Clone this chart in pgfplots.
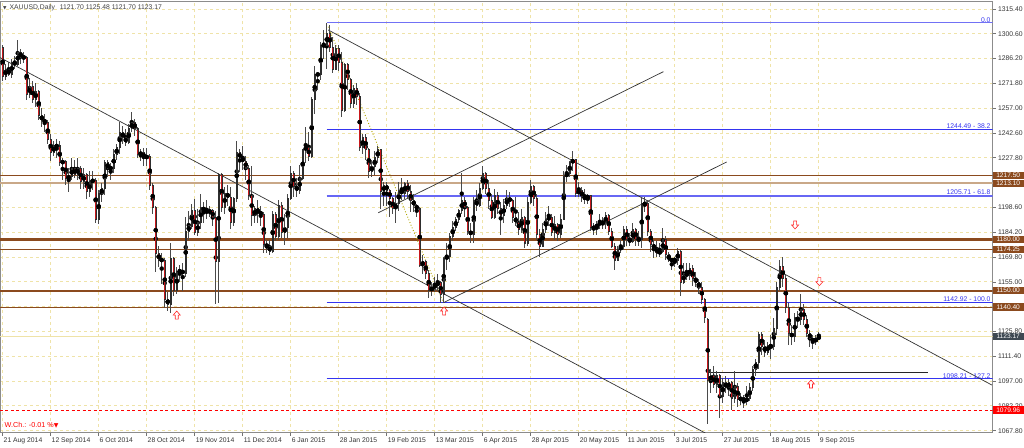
\documentclass[border=0pt]{standalone}
\usepackage{pgfplots}
\usepackage{pgfplotstable}
\pgfplotsset{compat=1.18}
\usepackage{fontspec}
\setmainfont{Liberation Sans}
\newfontfamily\sym{DejaVu Sans}
\definecolor{gridy}{HTML}{EFE3A8}
\definecolor{brownA}{HTML}{8B4A1E}
\definecolor{brownB}{HTML}{C9A888}
\definecolor{fibblue}{HTML}{3434F0}
\definecolor{wick}{HTML}{4A4A4A}
\definecolor{body}{HTML}{2E2E2E}
\definecolor{bear}{HTML}{C8181C}
\definecolor{slate}{HTML}{3E4852}

\pgfplotstableread{
i o h l c
0 1293 1294 1273 1276
1 1276 1283 1274 1280
2 1280 1284 1276 1277
3 1277 1286 1275 1284
4 1284 1288 1280 1283
5 1283 1297 1282 1290
6 1290 1292 1283 1287
7 1287 1290 1284 1287
8 1287 1288 1262 1265
9 1265 1275 1263 1270
10 1270 1273 1260 1262
11 1262 1272 1258 1267
12 1267 1268 1250 1253
13 1253 1257 1246 1250
14 1250 1254 1243 1249
15 1249 1250 1236 1239
16 1239 1242 1226 1231
17 1231 1238 1229 1235
18 1235 1239 1228 1235
19 1235 1238 1223 1225
20 1225 1228 1215 1226
21 1226 1227 1212 1216
22 1216 1222 1208 1217
23 1217 1228 1215 1222
24 1222 1227 1216 1218
25 1218 1228 1215 1222
26 1222 1223 1210 1214
27 1214 1222 1210 1218
28 1218 1219 1204 1208
29 1208 1220 1205 1214
30 1214 1220 1209 1215
31 1215 1216 1190 1192
32 1192 1209 1189 1207
33 1207 1213 1202 1210
34 1210 1227 1206 1225
35 1225 1227 1217 1222
36 1222 1225 1215 1222
37 1222 1233 1219 1230
38 1230 1236 1227 1234
39 1234 1249 1230 1243
40 1243 1247 1236 1240
41 1240 1245 1235 1237
42 1237 1248 1236 1245
43 1245 1255 1243 1249
44 1249 1251 1241 1245
45 1245 1246 1228 1230
46 1230 1233 1226 1231
47 1231 1234 1223 1228
48 1228 1234 1223 1229
49 1229 1230 1209 1212
50 1212 1213 1195 1199
51 1199 1200 1161 1172
52 1172 1176 1164 1168
53 1168 1172 1154 1168
54 1168 1169 1140 1145
55 1145 1149 1138 1142
56 1142 1178 1137 1169
57 1169 1170 1147 1150
58 1150 1164 1148 1161
59 1161 1165 1155 1162
60 1162 1166 1150 1160
61 1160 1193 1158 1185
62 1185 1197 1180 1188
63 1188 1201 1186 1197
64 1197 1204 1183 1184
65 1184 1198 1182 1190
66 1190 1207 1186 1199
67 1199 1202 1190 1197
68 1197 1203 1192 1196
69 1196 1200 1193 1197
70 1197 1198 1188 1193
71 1193 1197 1142 1167
72 1167 1219 1143 1218
73 1218 1219 1196 1199
74 1199 1211 1195 1207
75 1207 1212 1200 1205
76 1205 1211 1186 1190
77 1190 1205 1188 1204
78 1204 1238 1202 1231
79 1231 1233 1220 1228
80 1228 1235 1221 1226
81 1226 1229 1215 1222
82 1222 1224 1203 1206
83 1206 1223 1188 1194
84 1194 1200 1190 1198
85 1198 1203 1190 1196
86 1196 1200 1188 1195
87 1195 1196 1172 1177
88 1177 1180 1172 1176
89 1176 1180 1171 1173
90 1173 1197 1172 1195
91 1195 1196 1179 1182
92 1182 1203 1180 1200
93 1200 1202 1181 1184
94 1184 1195 1177 1187
95 1187 1207 1181 1204
96 1204 1223 1203 1219
97 1219 1220 1205 1211
98 1211 1216 1205 1209
99 1209 1224 1207 1216
100 1216 1233 1215 1233
101 1233 1246 1225 1234
102 1234 1243 1226 1229
103 1229 1264 1228 1262
104 1262 1282 1254 1277
105 1277 1278 1268 1277
106 1277 1296 1274 1294
107 1294 1303 1286 1294
108 1294 1307 1280 1301
109 1301 1306 1290 1293
110 1293 1299 1278 1280
111 1280 1294 1280 1292
112 1292 1294 1279 1284
113 1284 1290 1252 1256
114 1256 1284 1255 1283
115 1283 1284 1268 1274
116 1274 1275 1257 1260
117 1260 1271 1257 1269
118 1269 1272 1259 1264
119 1264 1266 1232 1234
120 1234 1242 1230 1240
121 1240 1242 1227 1233
122 1233 1234 1216 1220
123 1220 1227 1217 1223
124 1223 1232 1218 1228
125 1228 1235 1225 1233
126 1233 1233 1198 1208
127 1208 1214 1200 1212
128 1212 1214 1200 1209
129 1209 1210 1193 1204
130 1204 1205 1195 1198
131 1198 1208 1190 1201
132 1201 1214 1197 1209
133 1209 1216 1203 1207
134 1207 1214 1204 1213
135 1213 1215 1204 1208
136 1208 1212 1196 1203
137 1203 1207 1196 1200
138 1200 1201 1193 1198
139 1198 1199 1164 1165
140 1165 1171 1160 1167
141 1167 1168 1157 1160
142 1160 1162 1146 1150
143 1150 1155 1147 1152
144 1152 1158 1149 1153
145 1153 1160 1150 1155
146 1155 1156 1143 1148
147 1148 1170 1143 1169
148 1169 1178 1162 1170
149 1170 1184 1167 1182
150 1182 1191 1179 1187
151 1187 1193 1185 1192
152 1192 1198 1190 1197
153 1197 1219 1195 1203
154 1203 1205 1193 1199
155 1199 1200 1183 1185
156 1185 1190 1178 1183
157 1183 1205 1178 1203
158 1203 1209 1197 1200
159 1200 1213 1199 1210
160 1210 1223 1209 1219
161 1219 1220 1207 1210
162 1210 1215 1198 1203
163 1203 1207 1192 1193
164 1193 1210 1192 1206
165 1206 1208 1195 1198
166 1198 1202 1183 1194
167 1194 1204 1190 1200
168 1200 1209 1198 1204
169 1204 1208 1199 1203
170 1203 1204 1190 1193
171 1193 1205 1188 1190
172 1190 1196 1183 1186
173 1186 1198 1184 1193
174 1193 1194 1175 1178
175 1178 1205 1176 1202
176 1202 1215 1201 1211
177 1211 1212 1200 1204
178 1204 1207 1180 1183
179 1183 1186 1170 1176
180 1176 1190 1176 1186
181 1186 1196 1184 1192
182 1192 1200 1188 1193
183 1193 1195 1182 1184
184 1184 1194 1180 1189
185 1189 1190 1179 1183
186 1183 1195 1181 1192
187 1192 1220 1192 1217
188 1217 1224 1214 1219
189 1219 1226 1217 1225
190 1225 1232 1220 1227
191 1227 1227 1205 1207
192 1207 1214 1205 1209
193 1209 1211 1202 1205
194 1205 1210 1201 1204
195 1204 1207 1201 1206
196 1206 1206 1185 1187
197 1187 1190 1183 1187
198 1187 1191 1183 1189
199 1189 1195 1186 1190
200 1190 1193 1186 1190
201 1190 1196 1186 1194
202 1194 1195 1183 1185
203 1185 1187 1175 1176
204 1176 1178 1162 1168
205 1168 1176 1168 1174
206 1174 1180 1172 1176
207 1176 1188 1174 1186
208 1186 1188 1176 1180
209 1180 1184 1176 1179
210 1179 1190 1178 1186
211 1186 1187 1176 1180
212 1180 1185 1176 1180
213 1180 1205 1175 1201
214 1201 1205 1196 1201
215 1201 1203 1182 1185
216 1185 1186 1173 1177
217 1177 1180 1169 1175
218 1175 1179 1170 1172
219 1172 1178 1170 1173
220 1173 1187 1172 1180
221 1180 1182 1168 1171
222 1171 1173 1167 1168
223 1168 1169 1162 1168
224 1168 1170 1164 1168
225 1168 1175 1165 1173
226 1173 1174 1147 1155
227 1155 1166 1154 1160
228 1160 1166 1156 1159
229 1159 1166 1156 1163
230 1163 1165 1153 1157
231 1157 1161 1152 1155
232 1155 1157 1148 1152
233 1152 1155 1142 1145
234 1145 1146 1131 1134
235 1133 1134 1072 1097
236 1097 1104 1090 1100.5
237 1100.5 1106 1093 1095
238 1095 1103 1090 1100
239 1100 1101 1075 1088
240 1088 1099 1084 1096
241 1096 1100 1090 1093
242 1093 1098 1088 1096
243 1096 1097 1080 1087
244 1087 1103 1084 1094
245 1094 1096 1082 1086
246 1086 1090 1083 1087
247 1087 1089 1081 1085
248 1085 1094 1083 1087
249 1087 1096 1085 1093
250 1093 1106 1091 1104
251 1104 1110 1100 1108
252 1108 1126 1104 1124
253 1124 1126 1112 1117
254 1117 1121 1111 1114
255 1114 1120 1112 1118
256 1118 1124 1110 1117
257 1117 1134 1115 1128
258 1128 1155 1124 1152
259 1152 1168 1150 1164
260 1164 1170 1152 1157
261 1157 1160 1137 1140
262 1140 1143 1118 1125
263 1125 1130 1118 1123
264 1123 1137 1120 1134
265 1134 1138 1128 1133
266 1133 1148 1130 1139
267 1139 1142 1130 1133
268 1133 1136 1123 1125
269 1125 1127 1117 1122
270 1122 1124 1116 1120
271 1120 1124 1118 1122
272 1121.70 1125.48 1121.70 1123.17
}\ohlc

\begin{document}
\begin{tikzpicture}
\useasboundingbox (0,0) rectangle (1024pt,-447pt);
\begin{axis}[
  at={(0pt,-1.7pt)}, anchor=north west,
  scale only axis, width=992.5pt, height=430.8pt,
  xmin=-0.9, xmax=329.9, ymin=1066.74, ymax=1319.7,
  clip mode=individual,
  axis line style={draw=black!45, line width=0.7pt},
  /pgf/number format/assume math mode=true,
  xtick={0,16,32,48,64,80,96,112,128,144,160,176,192,208,224,240,256,272},
  xticklabels={21 Aug 2014,12 Sep 2014,6 Oct 2014,28 Oct 2014,19 Nov 2014,11 Dec 2014,6 Jan 2015,28 Jan 2015,19 Feb 2015,13 Mar 2015,6 Apr 2015,28 Apr 2015,20 May 2015,11 Jun 2015,3 Jul 2015,27 Jul 2015,18 Aug 2015,9 Sep 2015},
  ytick={1067.8,1082.365,1096.93,1111.495,1126.06,1140.625,1155.19,1169.755,1184.32,1198.885,1213.45,1228.015,1242.58,1257.145,1271.71,1286.275,1300.84,1315.405},
  yticklabels={1067.80,1082.20,1097.00,1111.40,1125.80,{},1155.00,1169.80,1184.20,1198.60,{},1227.80,1242.60,1257.00,1271.80,1286.20,1300.60,1315.40},
  grid=major,
  major grid style={dash pattern=on 3pt off 3pt, draw=gridy, line width=0.8pt},
  tick align=outside, major tick length=3pt,
  tick style={draw=black!55, line width=0.7pt},
  xtick pos=bottom, ytick pos=right, yticklabel pos=right,
  ticklabel style={font=\fontsize{6.8}{7}\selectfont, text=black!80},
  xticklabel style={anchor=north west, xshift=-2.5pt, yshift=1pt},
  yticklabel style={anchor=west, xshift=-1pt},
]
% horizontal support / resistance lines
\addplot[brownA, line width=1.1pt] coordinates {(-0.9,1217.5) (329.9,1217.5)};
\addplot[brownB, line width=2.4pt] coordinates {(-0.9,1213.1) (329.9,1213.1)};
\addplot[brownA, line width=2.4pt] coordinates {(-0.9,1180.0) (329.9,1180.0)};
\addplot[brownA, line width=1.8pt] coordinates {(-0.9,1174.25) (329.9,1174.25)};
\addplot[brownA, line width=2.4pt] coordinates {(-0.9,1150.0) (329.9,1150.0)};
\addplot[brownA, line width=1.1pt] coordinates {(-0.9,1140.4) (329.9,1140.4)};
% current price line
\addplot[gridy, line width=0.8pt] coordinates {(-0.9,1123.17) (329.9,1123.17)};
% red dashed line
\addplot[red, line width=0.9pt, dash pattern=on 3pt off 2.5pt] coordinates {(-0.9,1079.96) (329.9,1079.96)};
% fibonacci levels
\addplot[fibblue!70, line width=1.2pt] coordinates {(108,1307.26) (329.9,1307.26)};
\addplot[fibblue, line width=1.1pt] coordinates {(108,1244.49) (329.9,1244.49)};
\addplot[fibblue!75, line width=1.4pt] coordinates {(108,1205.71) (329.9,1205.71)};
\addplot[fibblue, line width=1.1pt] coordinates {(108,1142.92) (329.9,1142.92)};
\addplot[fibblue, line width=1.1pt] coordinates {(108,1098.21) (329.9,1098.21)};
\addplot[olive!70!yellow, line width=0.9pt, dotted] coordinates {(108.5,1305.0) (146.9,1142.9)};
% black horizontal line
\addplot[black!85, line width=0.9pt] coordinates {(235.4,1101.9) (308.4,1101.9)};
% trend lines
\addplot[black!80, line width=0.7pt] coordinates {(-0.9,1286.9) (236,1064.7)};
\addplot[black!80, line width=0.7pt] coordinates {(108.5,1303.1) (329.7,1094.6)};
\addplot[black!80, line width=0.7pt] coordinates {(146.9,1142.96) (241.3,1225.6)};
\addplot[black!80, line width=0.7pt] coordinates {(125.2,1195.8) (220.2,1278.6)};
% candles: wicks
\addplot[only marks, mark=none, error bars/.cd, y dir=both, y explicit, error mark=none,
  error bar style={line width=0.9pt, draw=wick}]
  table[x=i, y expr=(\thisrow{h}+\thisrow{l})/2, y error expr=(\thisrow{h}-\thisrow{l})/2] {\ohlc};
% bodies
\addplot[only marks, mark=none, error bars/.cd, y dir=both, y explicit, error mark=none,
  error bar style={line width=2.2pt, draw=body, line cap=butt}]
  table[x=i, y expr=(\thisrow{o}+\thisrow{c})/2, y error expr={max(abs(\thisrow{o}-\thisrow{c})/2+0.3,0.4)}] {\ohlc};
\addplot[only marks, mark=none, error bars/.cd, y dir=both, y explicit, error mark=none,
  error bar style={line width=1.0pt, draw=bear, line cap=butt}]
  table[x=i, y expr=(\thisrow{o}+\thisrow{c})/2, y error expr={(\thisrow{o}>\thisrow{c})*max(abs(\thisrow{o}-\thisrow{c})/2-0.35,0)}] {\ohlc};
% fib labels
\tikzset{fibl/.style={anchor=south east, inner sep=0.6pt, text=fibblue, font=\fontsize{6.8}{7}\selectfont}}
\node[fibl] at (axis cs:329.5,1307.26) {0.0};
\node[fibl] at (axis cs:329.5,1244.49) {1244.49 - 38.2};
\node[fibl] at (axis cs:329.5,1205.71) {1205.71 - 61.8};
\node[fibl] at (axis cs:329.5,1142.92) {1142.92 - 100.0};
\node[fibl] at (axis cs:329.5,1098.21) {1098.21 - 127.2};
% price boxes
\tikzset{pbox/.style={anchor=west, fill=#1, text=white, inner sep=0pt, minimum width=31pt, minimum height=7.4pt, font=\fontsize{6.6}{7}\selectfont}}
\node[pbox=brownA] at (axis cs:329.9,1217.7) {1217.50};
\node[pbox=brownA] at (axis cs:329.9,1212.9) {1213.10};
\node[pbox=brownA] at (axis cs:329.9,1180.0) {1180.00};
\node[pbox=brownA] at (axis cs:329.9,1174.25) {1174.25};
\node[pbox=brownA] at (axis cs:329.9,1150.0) {1150.00};
\node[pbox=brownA] at (axis cs:329.9,1140.4) {1140.40};
\node[pbox=slate] at (axis cs:329.9,1123.17) {1123.17};
\node[pbox=red] at (axis cs:329.9,1079.96) {1079.96};
% arrows
\tikzset{arr/.style={draw=red!85, fill=white, line width=0.6pt}}
\draw[arr] (axis cs:58,1135.7) ++(-1.5pt,-4pt) -- ++(3pt,0pt) -- ++(0pt,4pt) -- ++(2pt,0pt) -- ++(-3.5pt,4pt) -- ++(-3.5pt,-4pt) -- ++(2pt,0pt) -- cycle;
\draw[arr] (axis cs:147.1,1138.1) ++(-1.5pt,-4pt) -- ++(3pt,0pt) -- ++(0pt,4pt) -- ++(2pt,0pt) -- ++(-3.5pt,4pt) -- ++(-3.5pt,-4pt) -- ++(2pt,0pt) -- cycle;
\draw[arr] (axis cs:269.4,1095.2) ++(-1.5pt,-4pt) -- ++(3pt,0pt) -- ++(0pt,4pt) -- ++(2pt,0pt) -- ++(-3.5pt,4pt) -- ++(-3.5pt,-4pt) -- ++(2pt,0pt) -- cycle;
\draw[arr] (axis cs:264.1,1188.6) ++(-1.5pt,4pt) -- ++(3pt,0pt) -- ++(0pt,-4pt) -- ++(2pt,0pt) -- ++(-3.5pt,-4pt) -- ++(-3.5pt,4pt) -- ++(2pt,0pt) -- cycle;
\draw[arr] (axis cs:272.2,1155.3) ++(-1.5pt,4pt) -- ++(3pt,0pt) -- ++(0pt,-4pt) -- ++(2pt,0pt) -- ++(-3.5pt,-4pt) -- ++(-3.5pt,4pt) -- ++(2pt,0pt) -- cycle;
% title and status text
\node[anchor=west, inner sep=0pt, font=\fontsize{6.8}{7}\selectfont, text=black!75] at (axis description cs:0,1) [xshift=3pt, yshift=-6.3pt] {{\sym\fontsize{4.5}{5}\selectfont ▼}\hspace{3pt}XAUUSD,Daily\hspace{3pt} 1121.70 1125.48 1121.70 1123.17};
\node[anchor=west, inner sep=0pt, font=\fontsize{7.2}{8}\selectfont, text=red] at (axis description cs:0,0) [xshift=4.5pt, yshift=7pt] {W.Ch.: -0.01 \%{\sym\fontsize{6}{6}\selectfont ▼}};
\end{axis}
\end{tikzpicture}
\end{document}
